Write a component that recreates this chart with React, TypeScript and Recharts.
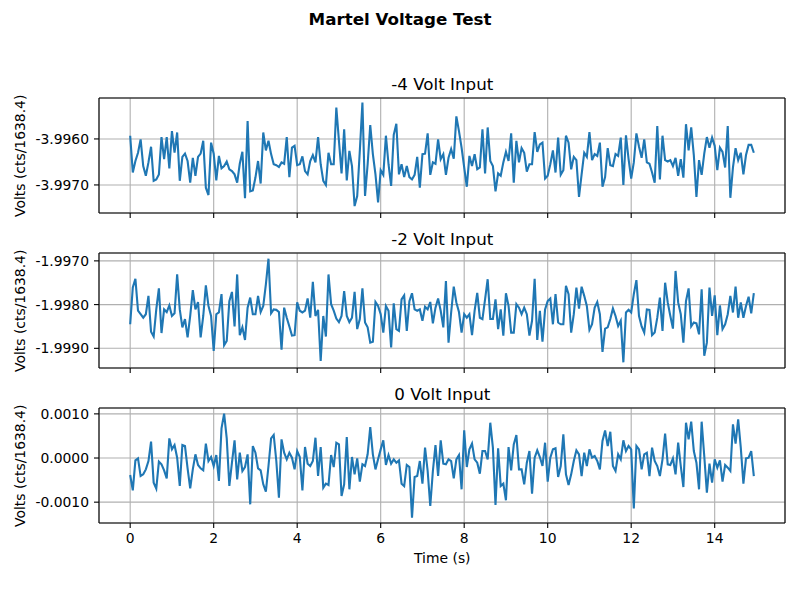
import React from "react";
import {
  LineChart,
  Line,
  XAxis,
  YAxis,
  CartesianGrid,
  ReferenceLine,
} from "recharts";

// sampled at 16 Hz, 240 samples per input level
const SAMPLE_STEP = 0.0625;

const minus4Volts = [
  -3.99593, -3.99673, -3.99648, -3.9963, -3.99601, -3.99659, -3.9968, -3.99651, -3.99617, -3.99691,
  -3.99688, -3.99677, -3.99596, -3.99644, -3.99596, -3.99664, -3.99583, -3.9963, -3.99586, -3.99691,
  -3.99639, -3.99632, -3.99648, -3.99695, -3.99641, -3.9968, -3.99639, -3.99632, -3.99604, -3.99706,
  -3.99722, -3.99608, -3.99632, -3.9969, -3.99637, -3.99664, -3.99659, -3.99649, -3.99666, -3.9967,
  -3.99677, -3.99695, -3.99654, -3.99628, -3.99729, -3.99561, -3.99714, -3.99712, -3.99684, -3.99648,
  -3.99697, -3.99586, -3.99625, -3.99604, -3.99633, -3.99655, -3.99657, -3.99661, -3.99651, -3.99654,
  -3.99596, -3.99683, -3.99619, -3.99615, -3.99657, -3.99655, -3.99638, -3.9967, -3.99677, -3.99648,
  -3.99635, -3.99651, -3.99596, -3.99655, -3.99691, -3.997, -3.9963, -3.99655, -3.99655, -3.99532,
  -3.99604, -3.99675, -3.99579, -3.9969, -3.99626, -3.99659, -3.99746, -3.99724, -3.99626, -3.99521,
  -3.99724, -3.99655, -3.9957, -3.99633, -3.99677, -3.99738, -3.99668, -3.99678, -3.99593, -3.99655,
  -3.99702, -3.99591, -3.99567, -3.99677, -3.99655, -3.99683, -3.99659, -3.99683, -3.99688, -3.99678,
  -3.99639, -3.99706, -3.99633, -3.99632, -3.99588, -3.99678, -3.99651, -3.99654, -3.99601, -3.99644,
  -3.99633, -3.99678, -3.99641, -3.99622, -3.99643, -3.99551, -3.99583, -3.99619, -3.99662, -3.99704,
  -3.99637, -3.99659, -3.99633, -3.99666, -3.99662, -3.99579, -3.99675, -3.99575, -3.99648, -3.99659,
  -3.99714, -3.99675, -3.9968, -3.99651, -3.99628, -3.99648, -3.99588, -3.99695, -3.99604, -3.99651,
  -3.9962, -3.9963, -3.99671, -3.99655, -3.99655, -3.99585, -3.99628, -3.99612, -3.99608, -3.99686,
  -3.9968, -3.99655, -3.99625, -3.99673, -3.99597, -3.99678, -3.99668, -3.99593, -3.99608, -3.99666,
  -3.99639, -3.99646, -3.99726, -3.99677, -3.9963, -3.99639, -3.99585, -3.99646, -3.99633, -3.99637,
  -3.99608, -3.99704, -3.99683, -3.9962, -3.99657, -3.99659, -3.99633, -3.99637, -3.99597, -3.997,
  -3.99592, -3.99644, -3.99686, -3.99651, -3.99588, -3.99617, -3.99641, -3.99601, -3.99651, -3.99654,
  -3.99673, -3.99695, -3.99572, -3.99688, -3.99593, -3.99646, -3.99649, -3.99646, -3.99659, -3.99641,
  -3.9968, -3.99644, -3.99684, -3.99568, -3.99625, -3.99575, -3.99635, -3.99726, -3.99646, -3.99678,
  -3.99632, -3.99596, -3.99619, -3.99597, -3.99615, -3.99668, -3.99619, -3.99628, -3.99662, -3.99572,
  -3.99728, -3.99662, -3.9962, -3.99646, -3.9963, -3.99677, -3.99635, -3.99613, -3.99613, -3.9963,
];

const minus2Volts = [
  -1.99845, -1.99761, -1.99741, -1.99814, -1.99822, -1.9983, -1.99822, -1.9978, -1.99862, -1.99873,
  -1.99811, -1.99763, -1.99865, -1.99811, -1.99817, -1.99802, -1.99826, -1.9982, -1.99731, -1.99811,
  -1.99852, -1.99833, -1.99875, -1.99826, -1.99767, -1.99811, -1.99794, -1.99875, -1.99826, -1.99756,
  -1.99803, -1.99826, -1.99906, -1.99822, -1.99818, -1.99776, -1.99893, -1.99883, -1.99792, -1.99771,
  -1.9985, -1.99731, -1.9987, -1.99852, -1.99881, -1.99807, -1.99784, -1.99822, -1.99822, -1.9978,
  -1.99817, -1.99803, -1.99754, -1.99695, -1.9982, -1.99811, -1.99812, -1.99817, -1.99903, -1.99807,
  -1.9983, -1.9985, -1.99871, -1.9987, -1.99795, -1.99814, -1.99818, -1.99814, -1.99786, -1.9983,
  -1.99748, -1.99826, -1.99812, -1.99929, -1.99826, -1.99873, -1.99731, -1.99799, -1.99814, -1.99832,
  -1.9984, -1.99826, -1.99769, -1.99826, -1.9984, -1.9983, -1.99771, -1.99856, -1.99833, -1.99763,
  -1.99841, -1.99852, -1.99887, -1.99885, -1.99794, -1.99803, -1.99822, -1.99864, -1.99803, -1.99814,
  -1.99898, -1.99797, -1.99856, -1.9986, -1.99788, -1.99779, -1.9986, -1.99792, -1.99774, -1.99811,
  -1.99814, -1.99811, -1.99837, -1.99805, -1.99811, -1.99794, -1.99843, -1.99807, -1.99786, -1.99814,
  -1.99852, -1.99746, -1.99887, -1.99818, -1.99759, -1.99795, -1.99817, -1.99864, -1.99822, -1.9983,
  -1.99822, -1.9987, -1.99814, -1.99773, -1.9983, -1.99833, -1.99788, -1.99742, -1.99833, -1.99833,
  -1.99788, -1.99856, -1.99811, -1.99871, -1.99774, -1.99803, -1.99864, -1.99864, -1.99799, -1.99807,
  -1.99822, -1.99807, -1.99822, -1.99871, -1.99837, -1.99741, -1.99881, -1.99814, -1.99885, -1.99811,
  -1.99792, -1.99786, -1.99845, -1.99776, -1.99841, -1.99845, -1.99845, -1.99757, -1.99776, -1.99864,
  -1.99822, -1.99761, -1.99809, -1.99759, -1.9978, -1.99803, -1.99858, -1.99845, -1.99807, -1.99794,
  -1.99822, -1.99908, -1.99855, -1.99852, -1.99833, -1.99809, -1.99826, -1.99849, -1.99837, -1.99932,
  -1.99818, -1.99812, -1.99818, -1.99776, -1.99744, -1.99826, -1.9985, -1.99864, -1.99811, -1.99812,
  -1.9987, -1.99864, -1.9983, -1.99784, -1.9986, -1.9975, -1.99795, -1.99826, -1.99855, -1.99723,
  -1.99795, -1.99822, -1.99887, -1.99792, -1.99763, -1.9985, -1.99841, -1.99843, -1.99868, -1.99765,
  -1.99917, -1.99887, -1.99761, -1.99826, -1.99779, -1.9987, -1.99802, -1.99856, -1.99845, -1.99822,
  -1.9978, -1.99818, -1.99759, -1.9983, -1.99795, -1.9983, -1.99803, -1.99782, -1.9982, -1.99774,
];

const zeroVolts = [
  -0.000385, -0.000732, -0.000053, -0.000008, -0.000408, -0.00037, -0.000257, -0.000068, 0.00037, -0.000558,
  -0.000694, -0.000083, -0.000143, -0.000279, -0.00046, 0.000445, 0.000196, 0.000294, 0.000008, -0.000634,
  0.000294, 0.000272, -0.000234, -0.000687, -0.000257, 0.000083, -0.000158, -0.000234, -0.000279, 0.000325,
  -0.000068, 0.000023, -0.000181, 0.000068, -0.000521, 0.000672, 0.001004, 0.000445, -0.000634, -0.000106,
  0.0004, -0.000483, 0.000121, -0.000294, -0.000204, 0.000083, -0.001049, 0.000272, 0.000121, -0.000234,
  -0.000279, -0.000596, -0.000762, -0.000181, 0.000445, 0.000521, -0.000068, -0.000898, 0.000423, 0.000121,
  -0.00003, 0.000121, 0.000008, -0.000257, 0.000158, 0.000023, -0.000732, 0.000249, -0.000128, -0.000181,
  -0.000068, 0.00046, -0.000408, 0.000249, -0.000672, -0.000581, -0.000611, 0.000068, -0.000204, 0.000347,
  0.000309, -0.00086, -0.000596, 0.000475, -0.000709, 0.000023, -0.00037, -0.000008, -0.000536, -0.000143,
  -0.000181, 0.000083, 0.000702, 0.000083, -0.000257, -0.00003, 0.000196, 0.0004, -0.000158, 0.000068,
  -0.000128, -0.00003, -0.000106, -0.000053, -0.000581, -0.000634, -0.000158, -0.000204, -0.001351, -0.00043,
  -0.000408, -0.000068, -0.000581, 0.000234, -0.000294, -0.001087, -0.000294, 0.000294, -0.000408, 0.0004,
  -0.000128, -0.000143, -0.00003, -0.000068, -0.00046, -0.00003, 0.000068, -0.000709, 0.000626, -0.000204,
  0.000196, 0.000325, -0.00003, -0.000106, -0.000355, 0.000158, 0.000158, -0.00003, 0.0008, 0.000234,
  -0.001064, 0.000219, -0.000634, -0.000581, -0.000958, 0.000249, -0.000279, 0.000309, 0.000521, -0.000257,
  -0.000257, -0.000596, -0.000106, 0.000158, -0.000808, 0.000008, 0.000174, 0.000023, -0.000181, 0.000347,
  -0.000536, 0.000008, 0.000196, 0.000219, -0.00043, -0.000181, 0.000536, -0.00037, -0.000611, -0.00037,
  -0.000068, 0.000174, 0.000083, -0.000408, 0.000121, -0.000181, 0.000196, 0.000008, 0.000045, -0.000068,
  -0.000257, 0.000385, 0.000626, 0.000272, 0.000596, -0.000181, -0.000294, 0.000083, -0.00003, 0.0004,
  0.000158, 0.000272, 0.000196, -0.00114, 0.000272, 0.000196, -0.000257, 0.000083, 0.000121, -0.000408,
  0.000234, -0.000068, -0.000181, -0.000408, -0.00003, 0.000551, -0.000143, -0.000158, -0.000008, -0.00037,
  0.000347, -0.000181, -0.000657, 0.0008, 0.000423, 0.000823, 0.000158, -0.000106, -0.000709, 0.000823,
  0.000045, -0.000785, -0.000128, -0.000558, -0.00003, -0.000219, -0.000053, -0.000536, -0.000158, -0.000219,
  -0.000294, 0.000762, 0.000325, 0.000875, 0.000234, -0.000581, -0.000008, 0.000008, 0.000158, -0.000408,
];

const timeTicks = [0, 2, 4, 6, 8, 10, 12, 14];
const minus4Ticks = [-3.997, -3.996];
const minus2Ticks = [-1.999, -1.998, -1.997];
const zeroTicks = [-0.001, 0, 0.001];

const times = minus4Volts.map((_, i) => i * SAMPLE_STEP);

const X_DOMAIN = [-0.7469, 15.684];
const BLUE = "#1f77b4";
const FONT = "DejaVu Sans";
const tickStyle = { fill: "#000", fontSize: 13.9, fontFamily: FONT };

type PanelProps = {
  top: number;
  values: number[];
  domain: number[];
  ticks: number[];
  showXLabels: boolean;
};

const Panel = ({ top, values, domain, ticks, showXLabels }: PanelProps) => {
  const data = times.map((t, i) => ({ t, v: values[i] }));
  return (
    <div style={{ position: "absolute", left: 0, top }}>
      <LineChart
        width={800}
        height={150}
        data={data}
        margin={{ top: 5, right: 15, left: 0, bottom: 0 }}
      >
        <CartesianGrid stroke="#b0b0b0" strokeWidth={1.1} />
        <XAxis
          dataKey="t"
          type="number"
          domain={X_DOMAIN}
          ticks={timeTicks}
          interval={0}
          allowDataOverflow
          height={30}
          tick={tickStyle}
          tickFormatter={(v: number) => (showXLabels ? String(v) : "")}
          tickSize={5}
          tickMargin={5.5}
          stroke="#000"
          strokeWidth={1.1}
        />
        <YAxis
          type="number"
          domain={domain}
          ticks={ticks}
          interval={0}
          allowDataOverflow
          width={99}
          tickFormatter={(v: number) => v.toFixed(4)}
          tick={tickStyle}
          tickSize={5}
          tickMargin={5}
          stroke="#000"
          strokeWidth={1.1}
        />
        <Line
          type="linear"
          dataKey="v"
          stroke={BLUE}
          strokeWidth={2.1}
          dot={false}
          isAnimationActive={false}
        />
        <ReferenceLine y={domain[1]} stroke="#000" strokeWidth={1.1} />
        <ReferenceLine x={X_DOMAIN[1]} stroke="#000" strokeWidth={1.1} />
      </LineChart>
    </div>
  );
};

const panelTitles = ["-4 Volt Input", "-2 Volt Input", "0 Volt Input"];
const plotTops = [98.3, 253.3, 408.3];
const PLOT_H = 115;
const PLOT_CX = 442.3;

const App = () => {
  return (
    <div
      style={{
        position: "absolute",
        left: 0,
        top: 0,
        width: 800,
        height: 600,
        background: "#fff",
      }}
    >
      <Panel
        top={plotTops[0] - 5}
        values={minus4Volts}
        domain={[-3.99761, -3.99511]}
        ticks={minus4Ticks}
        showXLabels={false}
      />
      <Panel
        top={plotTops[1] - 5}
        values={minus2Volts}
        domain={[-1.99945, -1.99682]}
        ticks={minus2Ticks}
        showXLabels={false}
      />
      <Panel
        top={plotTops[2] - 5}
        values={zeroVolts}
        domain={[-0.001472, 0.001133]}
        ticks={zeroTicks}
        showXLabels={true}
      />
      <svg
        width={800}
        height={600}
        style={{ position: "absolute", left: 0, top: 0, pointerEvents: "none" }}
        fontFamily={FONT}
      >
        <text x={400} y={25} textAnchor="middle" fontSize={16.7} fontWeight="bold">
          Martel Voltage Test
        </text>
        {panelTitles.map((title, i) => (
          <text
            key={title}
            x={PLOT_CX}
            y={plotTops[i] - 8.3}
            textAnchor="middle"
            fontSize={16.7}
          >
            {title}
          </text>
        ))}
        {plotTops.map((pt) => {
          const cy = pt + PLOT_H / 2;
          return (
            <text
              key={pt}
              x={25}
              y={cy}
              textAnchor="middle"
              fontSize={13.9}
              transform={`rotate(-90 25 ${cy})`}
            >
              Volts (cts/1638.4)
            </text>
          );
        })}
        <text x={PLOT_CX} y={563} textAnchor="middle" fontSize={13.9}>
          Time (s)
        </text>
      </svg>
    </div>
  );
};

export default App;
